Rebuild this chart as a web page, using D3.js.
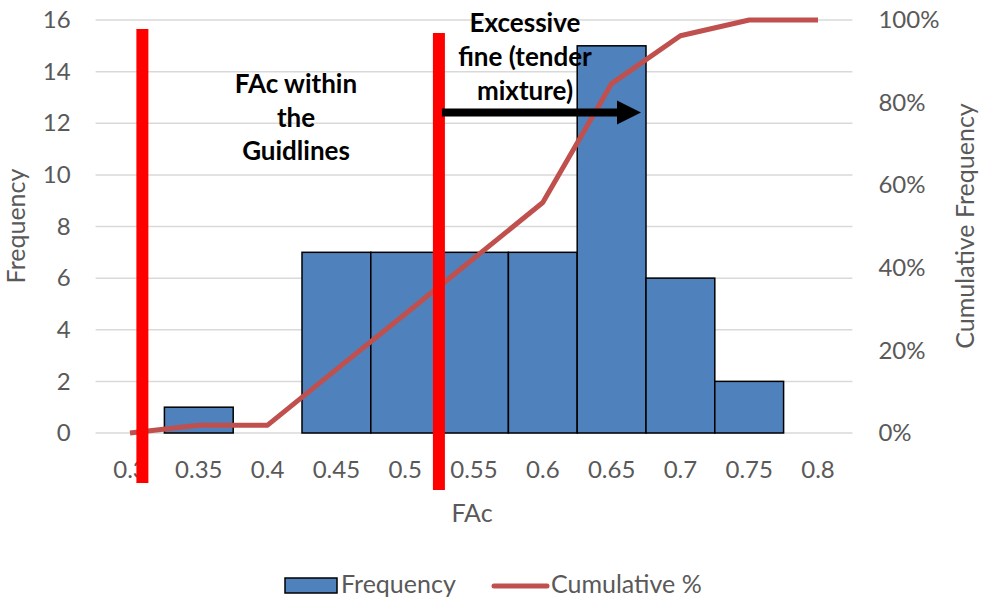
<!DOCTYPE html>
<html><head><meta charset="utf-8">
<script src="https://cdn.jsdelivr.net/npm/d3@7"></script>
<style>body{margin:0;background:#fff;} svg{display:block;}</style>
</head><body>
<script>
const categories = ["0.3","0.35","0.4","0.45","0.5","0.55","0.6","0.65","0.7","0.75","0.8"];
const frequency = [0,1,0,7,7,7,7,15,6,2,0];
const cumulative = [0,0.019,0.019,0.154,0.288,0.423,0.558,0.846,0.962,1.0,1.0];
const yTicks = [0,2,4,6,8,10,12,14,16];
const y2Ticks = [0,0.2,0.4,0.6,0.8,1.0];
const noteLeft = ["FAc within","the","Guidlines"];
const noteRight = ["Excessive","fine (tender","mixture)"];
const markerLines = [0.309, 0.5245]; // FAc positions of red guideline bars

const W=988,H=600;
const m={left:95.6,right:852.4,top:20,bottom:433};
const font="Lato, 'Open Sans', sans-serif";
const svg=d3.select("body").append("svg").attr("width",W).attr("height",H);

const x=d3.scaleBand().domain(categories).range([m.left,m.right]).padding(0);
const y=d3.scaleLinear().domain([0,16]).range([m.bottom,m.top]);
const y2=d3.scaleLinear().domain([0,1]).range([m.bottom,m.top]);
const xc=d3.scaleLinear().domain([0.3,0.8]).range([x("0.3")+x.bandwidth()/2, x("0.8")+x.bandwidth()/2]);

// gridlines
svg.append("g").selectAll("line").data(yTicks).join("line")
  .attr("x1",m.left).attr("x2",m.right).attr("y1",d=>y(d)).attr("y2",d=>y(d))
  .attr("stroke","#d9d9d9").attr("stroke-width",1.5);

// left axis
const ga=svg.append("g").attr("transform",`translate(${m.left-25},0)`)
  .call(d3.axisLeft(y).tickValues(yTicks).tickSize(0).tickPadding(0));
ga.select(".domain").remove();
ga.selectAll("text").attr("font-family",font).attr("font-size",24).attr("fill","#595959");

// right axis
const gr=svg.append("g").attr("transform",`translate(${m.right+26},0)`)
  .call(d3.axisRight(y2).tickValues(y2Ticks).tickFormat(d3.format(".0%")).tickSize(0).tickPadding(0));
gr.select(".domain").remove();
gr.selectAll("text").attr("font-family",font).attr("font-size",24).attr("fill","#595959");

// bottom axis
const gb=svg.append("g").attr("transform",`translate(0,${m.bottom})`)
  .call(d3.axisBottom(x).tickSize(0).tickPadding(0));
gb.select(".domain").remove();
gb.selectAll("text").attr("y",45).attr("dy",0).attr("font-family",font).attr("font-size",24).attr("fill","#595959");

// bars
svg.append("g").selectAll("rect").data(categories.map((c,i)=>({c,v:frequency[i]})).filter(d=>d.v>0)).join("rect")
  .attr("x",d=>x(d.c)).attr("width",x.bandwidth())
  .attr("y",d=>y(d.v)).attr("height",d=>y(0)-y(d.v))
  .attr("fill","#4F81BD").attr("stroke","#000").attr("stroke-width",1.5);

// cumulative line
const line=d3.line().x((d,i)=>x(categories[i])+x.bandwidth()/2).y(d=>y2(d));
svg.append("path").datum(cumulative).attr("d",line)
  .attr("fill","none").attr("stroke","#C0504D").attr("stroke-width",5).attr("stroke-linejoin","round");

// red guideline bars
const redTops=[29,33], redBots=[483,490];
svg.append("g").selectAll("line").data(markerLines).join("line")
  .attr("x1",d=>xc(d)).attr("x2",d=>xc(d))
  .attr("y1",(d,i)=>redTops[i]).attr("y2",(d,i)=>redBots[i])
  .attr("stroke","#FF0000").attr("stroke-width",12);

// arrow
const ax0=xc(markerLines[1])+3, ax1=641, ay=112.5;
svg.append("line").attr("x1",ax0).attr("x2",ax1-22).attr("y1",ay).attr("y2",ay)
  .attr("stroke","#000").attr("stroke-width",8);
svg.append("path").attr("d",`M${ax1-24},${ay-12}L${ax1},${ay}L${ax1-24},${ay+12}Z`).attr("fill","#000");

// annotations
svg.append("g").selectAll("text").data(noteLeft).join("text")
  .attr("x",296).attr("y",(d,i)=>93+i*33.5).attr("text-anchor","middle")
  .attr("font-family",font).attr("font-weight","bold").attr("font-size",26).attr("fill","#000").text(d=>d);
svg.append("g").selectAll("text").data(noteRight).join("text")
  .attr("x",525).attr("y",(d,i)=>32+i*34).attr("text-anchor","middle")
  .attr("font-family",font).attr("font-weight","bold").attr("font-size",26).attr("fill","#000").text(d=>d);

// axis titles
svg.append("text").attr("transform",`translate(25,226) rotate(-90)`).attr("text-anchor","middle")
  .attr("font-family",font).attr("font-size",25).attr("fill","#595959").text("Frequency");
svg.append("text").attr("transform",`translate(974,226) rotate(-90)`).attr("text-anchor","middle")
  .attr("font-family",font).attr("font-size",25).attr("fill","#595959").text("Cumulative Frequency");
svg.append("text").attr("x",472).attr("y",522).attr("text-anchor","middle")
  .attr("font-family",font).attr("font-size",25).attr("fill","#595959").text("FAc");

// legend
svg.append("rect").attr("x",285).attr("y",578).attr("width",52).attr("height",15)
  .attr("fill","#4F81BD").attr("stroke","#000").attr("stroke-width",1.5);
svg.append("text").attr("x",341).attr("y",593).attr("font-family",font).attr("font-size",25).attr("fill","#595959").text("Frequency");
svg.append("line").attr("x1",494).attr("x2",547).attr("y1",586).attr("y2",586)
  .attr("stroke","#C0504D").attr("stroke-width",5).attr("stroke-linecap","round");
svg.append("text").attr("x",551).attr("y",593).attr("font-family",font).attr("font-size",25).attr("fill","#595959").text("Cumulative %");
</script>
</body></html>
